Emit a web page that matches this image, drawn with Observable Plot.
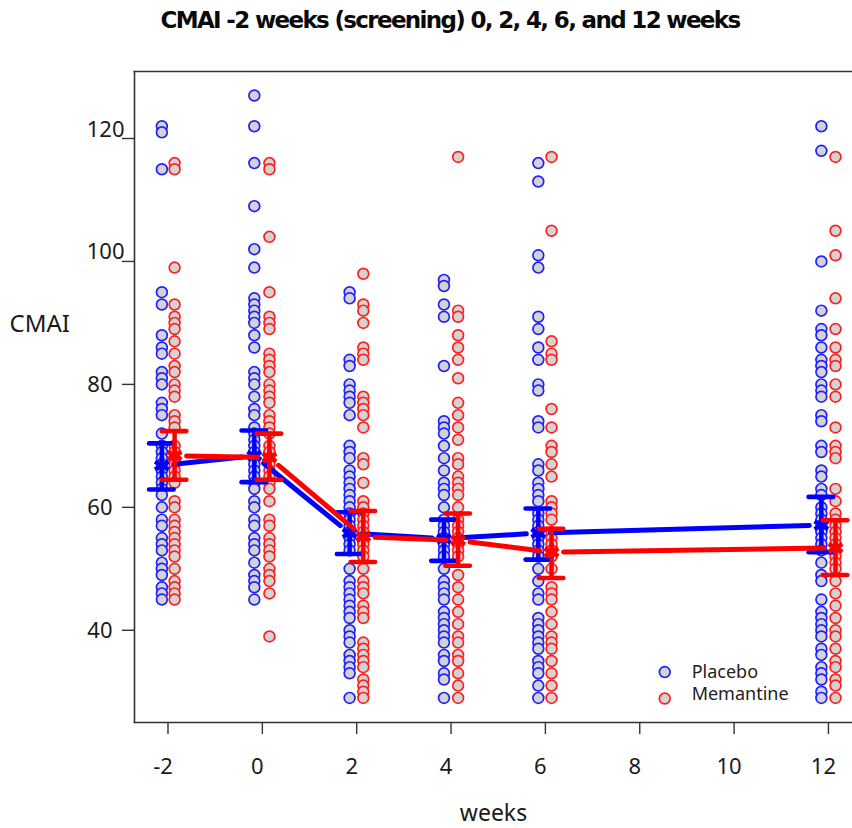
<!DOCTYPE html>
<html><head><meta charset="utf-8">
<script src="https://cdn.jsdelivr.net/npm/d3@7"></script>
<script src="https://cdn.jsdelivr.net/npm/@observablehq/plot@0.6"></script>
<style>
html,body{margin:0;padding:0;background:#fff;overflow:hidden}
#title{height:44px;text-align:center;width:900px;font:bold 23px/41px "DejaVu Sans";letter-spacing:-1.66px;color:#0a0a0a;white-space:nowrap}
svg{display:block}
</style></head><body>
<div id="title">CMAI -2 weeks (screening) 0, 2, 4, 6, and 12 weeks</div>
<div id="chart"></div>
<script>
const weeks=[-2,0,2,4,6,12];
const placeboX=[-2.13,-0.17,1.85,3.85,5.85,11.85];
const memantineX=[-1.86,0.15,2.14,4.15,6.13,12.15];
const placeboScores=[
 [122,121,115,95,93,88,86,85,82,81,80,77,76,75,72,70,69,68,67,66,65,64,63,62,60,58,57,55,54,53,51,50,49,47,46,45],
 [127,122,116,109,102,99,94,93,92,91,90,88,86,82,81,80,78,76,75,73,72,71,70,69,68,67,66,65,64,63,61,60,58,57,55,54,53,51,49,48,47,45],
 [95,94,84,83,80,79,78,77,75,70,69,68,66,65,64,63,62,61,60,59,58,57,56,55,54,53,50,48,47,46,45,44,43,42,40,39,38,36,35,34,33,29],
 [97,96,93,91,83,74,73,72,70,68,66,64,63,62,60,58,57,56,55,54,53,52,50,48,47,46,45,43,42,41,40,39,38,36,35,33,32,29],
 [116,113,101,99,91,89,86,84,80,79,74,73,67,66,64,63,62,61,59,58,57,56,55,54,53,52,50,48,46,45,42,41,40,39,38,37,35,34,33,31,29],
 [122,118,100,92,89,88,86,84,83,82,80,79,78,75,74,70,69,66,65,63,62,60,59,58,57,56,55,54,53,51,49,48,45,43,42,41,40,39,37,36,34,33,32,30,29]
];
const memantineScores=[
 [116,115,99,93,91,90,89,87,85,83,82,80,79,78,75,74,73,70,69,68,67,66,65,64,61,60,58,57,56,55,54,53,52,50,48,47,46,45],
 [116,115,104,95,91,90,89,85,84,83,82,80,79,78,77,75,74,73,72,70,69,68,67,66,65,64,63,61,58,57,55,54,53,52,50,49,48,46,39],
 [98,93,92,90,86,85,84,78,77,76,75,73,68,67,64,61,60,59,58,57,56,55,54,53,52,50,48,47,46,44,43,42,38,37,36,35,34,32,31,30,29],
 [117,92,91,88,86,84,81,77,75,73,71,68,67,65,64,63,62,60,58,57,56,55,54,53,52,49,47,45,43,41,39,38,36,35,33,31,29],
 [117,105,87,85,84,76,73,70,69,67,65,61,60,59,58,56,55,54,53,52,50,47,46,45,43,41,39,38,37,35,33,31,29],
 [117,105,101,94,89,86,84,83,80,78,73,70,69,68,63,61,59,58,57,56,55,54,53,52,51,50,48,46,44,42,40,39,37,35,34,32,31,29]
];
const placeboMeans=[66.8,68.4,55.8,54.9,55.8,57.1];
const memantineMeans=[68.4,68.1,55.2,54.6,52.7,53.4];
const placeboUpper=[70.4,72.5,59.2,58,59.8,61.7];
const placeboLower=[62.9,64.1,52.4,51.3,51.5,52.7];
const memantineUpper=[72.4,72,59.4,59,56.5,57.9];
const memantineLower=[64.5,64.5,51.1,50.5,48.5,49];
const yTicks=[40,60,80,100,120];
const xTicks=[-2,0,2,4,6,8,10,12];
const legendLabels=["Placebo","Memantine"];
const legendDotY=[33.2,28.9];
const legendTextY=[33.2,29.6];

const BLUE="#1f1fff",RED="#ff1f1f",FONT='"Noto Sans"',INK="#333";
const capHalf=0.26;
const arms=[
 {color:BLUE,solid:"#0000ff",x:placeboX,s:placeboScores,m:placeboMeans,u:placeboUpper,l:placeboLower},
 {color:RED,solid:"#ff0000",x:memantineX,s:memantineScores,m:memantineMeans,u:memantineUpper,l:memantineLower}
];
const marks=[];
for(const a of arms){
  const pts=a.s.flatMap((vals,i)=>vals.map(v=>({x:a.x[i],y:v})));
  marks.push(Plot.dot(pts,{x:"x",y:"y",r:5.4,fill:"#d3d3d3",stroke:a.color,strokeWidth:1.7}));
}
for(const a of arms){
  const sum=weeks.map((w,i)=>({x:a.x[i],m:a.m[i],u:a.u[i],l:a.l[i]}));
  const seg=sum.slice(0,-1).map((d,i)=>({x1:d.x,y1:d.m,x2:sum[i+1].x,y2:sum[i+1].m}));
  marks.push(Plot.arrow(seg,{x1:"x1",y1:"y1",x2:"x2",y2:"y2",stroke:a.solid,strokeWidth:5,headLength:0,inset:12}));
  marks.push(Plot.ruleX(sum,{x:"x",y1:"l",y2:"u",stroke:a.solid,strokeWidth:4.5}));
  for(const k of ["u","l"]) marks.push(Plot.ruleY(sum,{y:k,x1:d=>d.x-capHalf,x2:d=>d.x+capHalf,stroke:a.solid,strokeWidth:4.6,strokeLinecap:"round"}));
  marks.push(Plot.dot(sum,{x:"x",y:"m",symbol:"asterisk",r:7.5,stroke:a.solid,strokeWidth:4.5}));
}
const plot=Plot.plot({
  width:852,height:784,marginTop:27,marginBottom:106,marginLeft:134,marginRight:0,
  style:{background:"#fff",fontFamily:FONT,color:"#1a1a1a"},
  x:{domain:[-2.71,12.51]},
  y:{domain:[25,130.9]},
  marks:[
    ...marks,
    Plot.dot(legendLabels,{x:()=>8.53,y:(d,i)=>legendDotY[i],r:5.4,fill:"#d3d3d3",stroke:(d,i)=>i?RED:BLUE,strokeWidth:1.7}),
    Plot.text(legendLabels,{x:()=>9.1,y:(d,i)=>legendTextY[i],text:d=>d,textAnchor:"start",fontSize:18,fill:"#222"}),
    Plot.frame({anchor:"left",stroke:INK,strokeWidth:1.6}),
    Plot.frame({anchor:"top",stroke:INK,strokeWidth:1.6}),
    Plot.frame({anchor:"bottom",stroke:INK,strokeWidth:1.6}),
    Plot.axisY({ticks:yTicks,tickSize:12,tickFormat:()=>"",label:null,stroke:INK,strokeWidth:1.4}),
    Plot.axisY({ticks:yTicks.filter(v=>v<100),tickSize:0,tickPadding:22,fontSize:22,label:null,dy:1}),
    Plot.axisY({ticks:yTicks.filter(v=>v>=100),tickSize:0,tickPadding:10,fontSize:22,label:null,dy:-9}),
    Plot.axisX({ticks:xTicks,tickSize:12,tickFormat:()=>"",label:null,stroke:INK,strokeWidth:1.4}),
    Plot.axisX({ticks:xTicks,tickSize:0,tickPadding:36,fontSize:22,label:null,tickFormat:d=>String(d),dx:-5}),
    Plot.text(["CMAI"],{frameAnchor:"left",dx:-125,dy:-73,textAnchor:"start",fontSize:24,fill:"#1a1a1a"}),
    Plot.text(["weeks"],{frameAnchor:"bottom",dx:0,dy:98,fontSize:23,fill:"#1a1a1a"})
  ]
});
document.getElementById("chart").append(plot);
</script></body></html>
